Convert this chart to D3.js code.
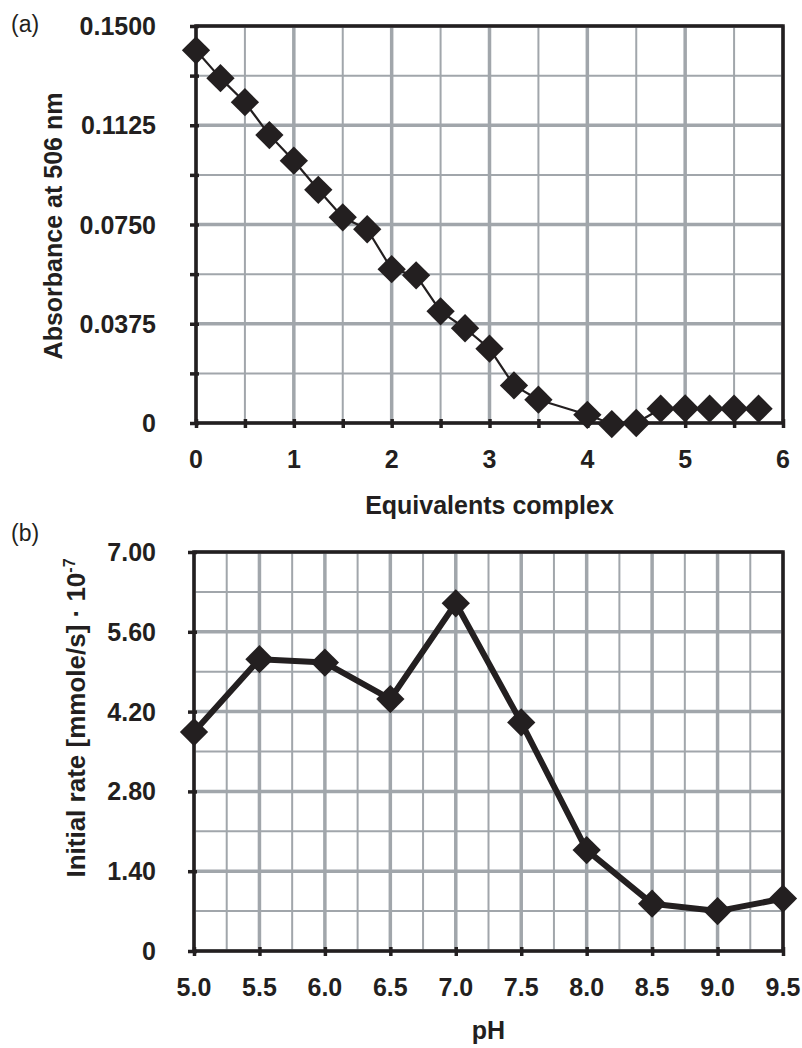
<!DOCTYPE html>
<html lang="en">
  <head>
    <meta charset="utf-8" />
    <title>Absorbance and initial rate</title>
    <script src="https://d3js.org/d3.v7.min.js" charset="utf-8"></script>
    <style>
      body { margin: 0; background: #fff; }
      svg text { font-family: "Liberation Sans", Arial, Helvetica, sans-serif; fill: #231f20; }
      .tick-label { font-size: 25px; font-weight: bold; }
      .axis-title { font-size: 25px; font-weight: bold; }
      .panel-tag { font-size: 23px; }
    </style>
  </head>
  <body>
    <div id="chart"></div>
    <script type="text/javascript">
      // panel (a): absorbance vs equivalents of complex
      const eqValues = [0, 0.25, 0.5, 0.75, 1, 1.25, 1.5, 1.75, 2, 2.25, 2.5, 2.75,
        3, 3.25, 3.5, 4, 4.25, 4.5, 4.75, 5, 5.25, 5.5, 5.75];
      const absValues = [0.1408, 0.1303, 0.1212, 0.1088, 0.0991, 0.0881, 0.0777, 0.0732,
        0.0581, 0.0558, 0.0422, 0.0358, 0.0281, 0.0142, 0.0088, 0.0031, -0.0004, 0.0,
        0.0054, 0.0055, 0.0054, 0.0054, 0.0054];
      const eqTicks = [0, 1, 2, 3, 4, 5, 6];
      const eqTickLabels = ["0", "1", "2", "3", "4", "5", "6"];
      const absTicks = [0, 0.0375, 0.075, 0.1125, 0.15];
      const absTickLabels = ["0", "0.0375", "0.0750", "0.1125", "0.1500"];

      // panel (b): initial rate vs pH
      const phValues = [5.0, 5.5, 6.0, 6.5, 7.0, 7.5, 8.0, 8.5, 9.0, 9.5];
      const rateValues = [3.84, 5.12, 5.06, 4.42, 6.10, 4.01, 1.77, 0.83, 0.70, 0.92];
      const phTicks = [5.0, 5.5, 6.0, 6.5, 7.0, 7.5, 8.0, 8.5, 9.0, 9.5];
      const phTickLabels = ["5.0", "5.5", "6.0", "6.5", "7.0", "7.5", "8.0", "8.5", "9.0", "9.5"];
      const rateTicks = [0, 1.4, 2.8, 4.2, 5.6, 7.0];
      const rateTickLabels = ["0", "1.40", "2.80", "4.20", "5.60", "7.00"];

      const cInk = "#231f20",
        cGrid = "#a1a6ab";

      const svg = d3
        .select("#chart")
        .append("svg")
        .attr("width", 802)
        .attr("height", 1048);

      const diamond = d3.symbol().type(d3.symbolSquare).size(400)();

      function midpoints(arr) {
        const out = [];
        for (let i = 0; i < arr.length - 1; i++) out.push((arr[i] + arr[i + 1]) / 2);
        return out;
      }

      function gridLines(g, vals, vertical, x, y, o, width) {
        g.append("g")
          .selectAll("line")
          .data(vals)
          .enter()
          .append("line")
          .attr("x1", (d) => (vertical ? x(d) : o.left))
          .attr("x2", (d) => (vertical ? x(d) : o.right))
          .attr("y1", (d) => (vertical ? o.top : y(d)))
          .attr("y2", (d) => (vertical ? o.bottom : y(d)))
          .attr("stroke", cGrid)
          .attr("stroke-width", width);
      }

      function drawPanel(o) {
        const x = d3.scaleLinear().domain(o.xDomain).range([o.left, o.right]);
        const y = d3.scaleLinear().domain(o.yDomain).range([o.bottom, o.top]);
        const g = svg.append("g");

        //grid
        gridLines(g, o.xMinor, true, x, y, o, 2);
        gridLines(g, o.yMinor, false, x, y, o, 2);
        gridLines(g, o.xTicks, true, x, y, o, 3.5);
        gridLines(g, o.yTicks, false, x, y, o, 3.5);

        //frame
        g.append("rect")
          .attr("x", o.left)
          .attr("y", o.top)
          .attr("width", o.right - o.left)
          .attr("height", o.bottom - o.top)
          .attr("fill", "none")
          .attr("stroke", cInk)
          .attr("stroke-width", 3.5);

        //tick marks
        const xMarks = g
          .append("g")
          .attr("transform", `translate(0,${o.bottom - 4})`)
          .call(d3.axisBottom(x).tickValues(o.xMarks).tickSize(9).tickFormat(""));
        const yMarks = g
          .append("g")
          .attr("transform", `translate(${o.left + 3},0)`)
          .call(d3.axisLeft(y).tickValues(o.yMarks).tickSize(9).tickFormat(""));
        [xMarks, yMarks].forEach((a) => {
          a.select(".domain").remove();
          a.selectAll(".tick line").attr("stroke", cInk).attr("stroke-width", 3.5);
        });

        //tick labels
        g.append("g")
          .selectAll("text")
          .data(o.xTicks)
          .enter()
          .append("text")
          .attr("class", "tick-label")
          .attr("x", (d) => x(d))
          .attr("y", o.bottom + 45)
          .attr("text-anchor", "middle")
          .text((d, i) => o.xTickLabels[i]);
        g.append("g")
          .selectAll("text")
          .data(o.yTicks)
          .enter()
          .append("text")
          .attr("class", "tick-label")
          .attr("x", 156)
          .attr("y", (d) => y(d) + 9)
          .attr("text-anchor", "end")
          .text((d, i) => o.yTickLabels[i]);

        //series
        const pts = o.xs.map((d, i) => [d, o.ys[i]]);
        g.append("path")
          .datum(pts)
          .attr("fill", "none")
          .attr("stroke", cInk)
          .attr("stroke-width", o.lineWidth)
          .attr("stroke-linejoin", "round")
          .attr(
            "d",
            d3
              .line()
              .x((d) => x(d[0]))
              .y((d) => y(d[1]))
          );
        g.append("g")
          .selectAll("path")
          .data(pts)
          .enter()
          .append("path")
          .attr("d", diamond)
          .attr("fill", cInk)
          .attr("transform", (d) => `translate(${x(d[0])},${y(d[1])}) rotate(45)`);

        //titles
        g.append("text")
          .attr("class", "axis-title")
          .attr("x", (o.left + o.right) / 2)
          .attr("y", o.xTitleY)
          .attr("text-anchor", "middle")
          .text(o.xTitle);
        const yt = g
          .append("text")
          .attr("class", "axis-title")
          .attr("text-anchor", "middle")
          .style("font-size", o.yTitleSize + "px")
          .attr("transform", `translate(${o.yTitleX},${o.yTitleY}) rotate(-90)`);
        yt.append("tspan").text(o.yTitle);
        if (o.yTitleSup) {
          yt.append("tspan")
            .attr("dy", -10)
            .style("font-size", "16px")
            .text(o.yTitleSup);
        }
        svg
          .append("text")
          .attr("class", "panel-tag")
          .attr("x", 11)
          .attr("y", o.tagY)
          .text(o.tag);
      }

      const eqMinor = midpoints(eqTicks);
      const absMinor = midpoints(absTicks);
      drawPanel({
        left: 196, right: 783, top: 26, bottom: 423,
        xDomain: [0, 6], yDomain: [0, 0.15],
        xMinor: eqMinor, yMinor: absMinor,
        xMarks: eqTicks.concat(eqMinor), yMarks: absTicks.concat(absMinor),
        xTicks: eqTicks, xTickLabels: eqTickLabels,
        yTicks: absTicks, yTickLabels: absTickLabels,
        xs: eqValues, ys: absValues, lineWidth: 2.2,
        xTitle: "Equivalents complex", xTitleY: 514,
        yTitle: "Absorbance at 506 nm", yTitleX: 62, yTitleY: 226, yTitleSize: 25,
        tag: "(a)", tagY: 32,
      });

      const phMinor = midpoints(phTicks);
      const rateMinor = midpoints(rateTicks);
      drawPanel({
        left: 194, right: 783, top: 552, bottom: 951,
        xDomain: [5.0, 9.5], yDomain: [0, 7],
        xMinor: phMinor, yMinor: rateMinor,
        xMarks: phTicks, yMarks: rateTicks,
        xTicks: phTicks, xTickLabels: phTickLabels,
        yTicks: rateTicks, yTickLabels: rateTickLabels,
        xs: phValues, ys: rateValues, lineWidth: 6,
        xTitle: "pH", xTitleY: 1039,
        yTitle: "Initial rate [mmole/s] · 10", yTitleSup: "-7",
        yTitleX: 85, yTitleY: 718, yTitleSize: 26,
        tag: "(b)", tagY: 541,
      });
    </script>
  </body>
</html>
